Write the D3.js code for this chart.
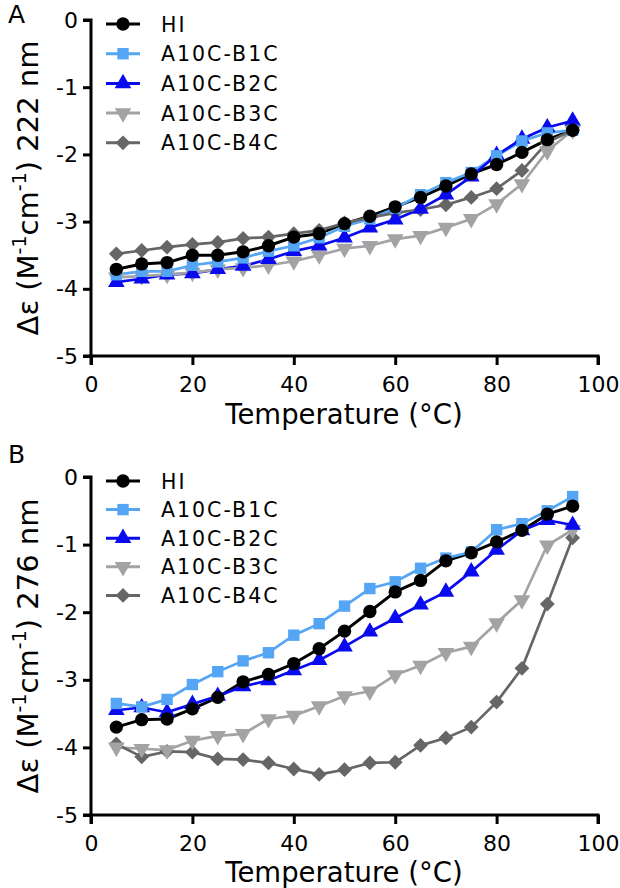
<!DOCTYPE html>
<html><head><meta charset="utf-8">
<script src="https://cdn.jsdelivr.net/npm/d3@7"></script>
<style>
html,body{margin:0;padding:0;background:#fff;}
svg{display:block;font-family:"DejaVu Sans",Verdana,sans-serif;}
</style></head>
<body><svg id="chart" width="620" height="888"></svg>
<script>
const temps = [5,10,15,20,25,30,35,40,45,50,55,60,65,70,75,80,85,90,95];
const seriesNames = ["HI","A10C-B1C","A10C-B2C","A10C-B3C","A10C-B4C"];
const xTicks = [0,20,40,60,80,100];
const yTicks = [0,-1,-2,-3,-4,-5];

const A_HI  = [-3.71,-3.63,-3.61,-3.50,-3.50,-3.45,-3.36,-3.23,-3.18,-3.03,-2.92,-2.78,-2.64,-2.47,-2.29,-2.15,-1.97,-1.78,-1.64];
const A_B1C = [-3.79,-3.74,-3.74,-3.65,-3.60,-3.54,-3.44,-3.36,-3.24,-3.07,-2.96,-2.80,-2.60,-2.42,-2.27,-2.02,-1.80,-1.68,-1.64];
const A_B2C = [-3.90,-3.85,-3.79,-3.77,-3.71,-3.66,-3.56,-3.44,-3.36,-3.24,-3.09,-2.97,-2.81,-2.60,-2.33,-2.01,-1.77,-1.60,-1.50];
const A_B3C = [-3.83,-3.81,-3.79,-3.76,-3.71,-3.69,-3.65,-3.59,-3.50,-3.40,-3.36,-3.26,-3.21,-3.09,-2.96,-2.74,-2.44,-1.95,-1.64];
const A_B4C = [-3.48,-3.43,-3.38,-3.34,-3.31,-3.25,-3.23,-3.18,-3.13,-3.02,-2.94,-2.87,-2.82,-2.75,-2.64,-2.51,-2.24,-1.82,-1.64];

const B_HI  = [-3.70,-3.59,-3.58,-3.43,-3.26,-3.03,-2.92,-2.76,-2.54,-2.28,-1.99,-1.70,-1.53,-1.24,-1.12,-0.96,-0.79,-0.55,-0.43];
const B_B1C = [-3.35,-3.40,-3.29,-3.07,-2.88,-2.72,-2.60,-2.34,-2.17,-1.91,-1.65,-1.55,-1.35,-1.20,-1.11,-0.78,-0.69,-0.50,-0.29];
const B_B2C = [-3.45,-3.41,-3.48,-3.36,-3.24,-3.10,-3.01,-2.86,-2.71,-2.51,-2.29,-2.09,-1.89,-1.70,-1.40,-1.08,-0.79,-0.64,-0.71];
const B_B3C = [-4.00,-4.02,-4.04,-3.90,-3.83,-3.80,-3.58,-3.53,-3.39,-3.24,-3.17,-2.93,-2.79,-2.60,-2.51,-2.16,-1.82,-1.01,-0.78];
const B_B4C = [-3.95,-4.14,-4.06,-4.07,-4.17,-4.18,-4.23,-4.32,-4.40,-4.33,-4.23,-4.22,-3.97,-3.86,-3.70,-3.33,-2.83,-1.88,-0.90];

const colors = ["#000000","#55a5f5","#0a0aee","#a3a3a5","#666668"];
const shapes = [d3.symbolCircle,d3.symbolSquare,d3.symbolTriangle,"down",d3.symbolDiamond];
const sizes = [140,130,120,120,110];

const svg = d3.select("#chart");

function marker(g, i, x, y){
  const s = shapes[i];
  let p;
  if (s === "down") {
    p = g.append("path").attr("d", d3.symbol(d3.symbolTriangle, sizes[i])())
      .attr("transform", `translate(${x},${y}) rotate(180)`);
  } else if (s === d3.symbolDiamond) {
    p = g.append("path").attr("d", d3.symbol(d3.symbolSquare, sizes[i])())
      .attr("transform", `translate(${x},${y}) rotate(45)`);
  } else {
    p = g.append("path").attr("d", d3.symbol(s, sizes[i])())
      .attr("transform", `translate(${x},${y})`);
  }
  p.attr("fill", colors[i]);
}

function panel(cfg){
  const x = d3.scaleLinear().domain([0,100]).range([91,598]);
  const y = d3.scaleLinear().domain([-5,0]).range([cfg.y0, cfg.y1]);
  const g = svg.append("g");

  const yAx = g.append("g").attr("transform","translate(91,0)")
    .call(d3.axisLeft(y).tickValues(yTicks).tickSize(8).tickPadding(5).tickFormat(d=> d===0?"0":"-"+Math.abs(d)));
  const xAx = g.append("g").attr("transform",`translate(0,${cfg.y0})`)
    .call(d3.axisBottom(x).tickValues(xTicks).tickSize(9).tickPadding(11));
  [yAx,xAx].forEach(a=>{
    a.select(".domain").attr("stroke","#000").attr("stroke-width",3);
    a.selectAll(".tick line").attr("stroke","#000").attr("stroke-width",3);
    a.selectAll("text").attr("font-family","DejaVu Sans").attr("font-size",22).attr("fill","#000");
  });
  yAx.select(".domain").attr("d",`M-8,${cfg.y1}H0V${cfg.y0}H-8`);
  xAx.select(".domain").attr("d",`M91,9V0H598V9`);

  g.append("text").attr("x",344).attr("y",cfg.y0+cfg.xtOff).attr("text-anchor","middle")
    .attr("font-size",27.5).text("Temperature (°C)");
  const yt = g.append("text").attr("transform",`translate(38,${(cfg.y0+cfg.y1)/2}) rotate(-90)`)
    .attr("text-anchor","middle").attr("font-size",29);
  yt.append("tspan").text("Δε (M");
  yt.append("tspan").attr("font-size",19).attr("dy",-12).text("-1");
  yt.append("tspan").attr("dy",12).text("cm");
  yt.append("tspan").attr("font-size",19).attr("dy",-12).text("-1");
  yt.append("tspan").attr("dy",12).text(") " + cfg.nm + " nm");
  g.append("text").attr("x",8).attr("y",cfg.letterY).attr("font-size",25).text(cfg.letter);

  const line = d3.line().x((d,i)=>x(temps[i])).y(d=>y(d));
  cfg.data.forEach((arr,i)=>{
    g.append("path").datum(arr).attr("d",line).attr("fill","none")
      .attr("stroke",colors[i]).attr("stroke-width",i===0?3:2.7).attr("stroke-linejoin","round");
  });
  [4,3,2,1,0].forEach(i=>{
    cfg.data[i].forEach((v,j)=> marker(g,i,x(temps[j]),y(v)));
  });

  seriesNames.forEach((n,i)=>{
    const ly = cfg.legY + i*cfg.legStep;
    g.append("line").attr("x1",106).attr("x2",140).attr("y1",ly).attr("y2",ly)
      .attr("stroke",colors[i]).attr("stroke-width",3);
    marker(g,i,123,ly);
    g.append("text").attr("x",161).attr("y",ly+7.5).attr("font-size",20.5)
      .attr("letter-spacing",2).text(n);
  });
}

panel({y0:356,y1:20,xtOff:68,nm:"222",letter:"A",letterY:23,legY:24,legStep:29.7,
  data:[A_HI,A_B1C,A_B2C,A_B3C,A_B4C]});
panel({y0:815,y1:477,xtOff:67,nm:"276",letter:"B",letterY:463,legY:481,legStep:28.6,
  data:[B_HI,B_B1C,B_B2C,B_B3C,B_B4C]});
</script></body></html>
